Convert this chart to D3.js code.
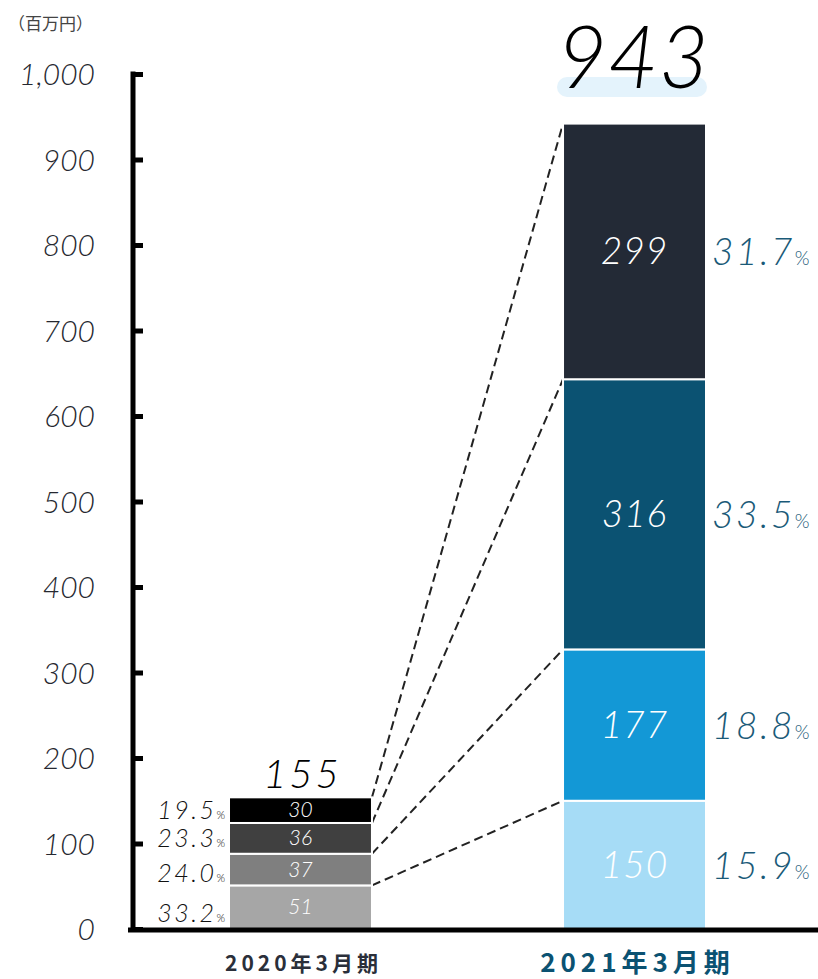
<!DOCTYPE html>
<html>
<head>
<meta charset="utf-8">
<script src="https://cdn.jsdelivr.net/npm/d3@7/dist/d3.min.js"></script>
<style>
  body { margin: 0; background: #fff; }
  svg { display: block; }
</style>
</head>
<body>
<svg id="chart" width="818" height="979"></svg>
<script>
// Sales breakdown by segment (百万円)
const periods = ["2020年3月期", "2021年3月期"];
const values2020 = [51, 37, 36, 30];
const values2021 = [150, 177, 316, 299];
const shares2020 = ["33.2", "24.0", "23.3", "19.5"];
const shares2021 = ["15.9", "18.8", "33.5", "31.7"];
const totals = [155, 943];
const colors2020 = ["#a6a6a6", "#7f7f7f", "#404040", "#000000"];
const colors2021 = ["#a6dcf6", "#1398d6", "#0b5272", "#232a36"];
const yTicks = [0, 100, 200, 300, 400, 500, 600, 700, 800, 900, 1000];

const svg = d3.select("#chart");
const numFont = "Lato, 'Open Sans', sans-serif";
const jpFont = "'Noto Sans CJK JP', 'Noto Sans', sans-serif";

const y = d3.scaleLinear().domain([0, 1000]).range([929, 74]);
const x = d3.scaleBand().domain(periods).range([128.8, 806.2]).paddingInner(0.572).paddingOuter(0.3);

// stacked segments
function stack(vals) {
  let acc = 0;
  return vals.map((v, i) => { const s = { i, v, y0: acc, y1: acc + v }; acc += v; return s; });
}
const seg2020 = stack(values2020);
const seg2021 = stack(values2021);

const x0 = x(periods[0]), x1 = x(periods[1]), bw = x.bandwidth();

// connecting dashed lines between corresponding boundaries
const links = [0, 1, 2, 3].map(i => ({ a: seg2020[i].y1, b: seg2021[i].y1 }));
svg.append("g").selectAll("line").data(links).join("line")
  .attr("x1", x0 + bw).attr("y1", d => y(d.a))
  .attr("x2", x1).attr("y2", d => y(d.b))
  .attr("stroke", "#222").attr("stroke-width", 2).attr("stroke-dasharray", "9,5");

// bars
function drawBar(segs, colors, bx) {
  svg.append("g").selectAll("rect").data(segs).join("rect")
    .attr("x", bx).attr("width", bw)
    .attr("y", d => y(d.y1))
    .attr("height", d => y(d.y0) - y(d.y1))
    .attr("fill", d => colors[d.i])
    .attr("stroke", "#fff").attr("stroke-width", 2);
}
drawBar(seg2020, colors2020, x0);
drawBar(seg2021, colors2021, x1);

// values inside segments
svg.append("g").selectAll("text").data(seg2020).join("text")
  .attr("x", x0 + bw / 2).attr("y", d => y((d.y0 + d.y1) / 2) + 7)
  .attr("text-anchor", "middle").attr("fill", "#fff")
  .attr("font-family", numFont).attr("font-style", "italic").attr("font-weight", 300)
  .attr("font-size", 21).text(d => d.v);
svg.append("g").selectAll("text").data(seg2021).join("text")
  .attr("x", x1 + bw / 2).attr("y", d => y((d.y0 + d.y1) / 2) + 13)
  .attr("text-anchor", "middle").attr("fill", "#fff")
  .attr("font-family", numFont).attr("font-style", "italic").attr("font-weight", 300)
  .attr("font-size", 37).attr("letter-spacing", 1).text(d => d.v);

// share labels, 2020 (left of bar)
const l2020 = svg.append("g").selectAll("text").data(seg2020).join("text")
  .attr("x", x0 - 4).attr("y", d => y((d.y0 + d.y1) / 2) + 9 + (d.i === 0 ? 6 : 0) + (d.i === 1 ? 3 : 0))
  .attr("text-anchor", "end").attr("fill", "#111")
  .attr("font-family", numFont).attr("font-style", "italic").attr("font-weight", 300)
  .attr("font-size", 25).attr("letter-spacing", 2.5);
l2020.append("tspan").text(d => shares2020[d.i]);
l2020.append("tspan").attr("font-size", 11).attr("font-style", "normal").attr("letter-spacing", 0).text("%");

// share labels, 2021 (right of bar)
const l2021 = svg.append("g").selectAll("text").data(seg2021).join("text")
  .attr("x", x1 + bw + 6).attr("y", d => y((d.y0 + d.y1) / 2) + 14)
  .attr("fill", "#1a5a78")
  .attr("font-family", numFont).attr("font-style", "italic").attr("font-weight", 300)
  .attr("font-size", 37).attr("letter-spacing", 2.5);
l2021.append("tspan").text(d => shares2021[d.i]);
l2021.append("tspan").attr("font-size", 19).attr("font-style", "normal").attr("letter-spacing", 0).text("%");

// totals
svg.append("rect").attr("x", x1 - 6).attr("y", 77).attr("width", bw + 7).attr("height", 20)
  .attr("rx", 10).attr("fill", "#e4f3fc");
svg.append("text").attr("x", x1 + bw / 2 - 1).attr("y", 88)
  .attr("text-anchor", "middle").attr("fill", "#000")
  .attr("font-family", numFont).attr("font-style", "italic").attr("font-weight", 300)
  .attr("font-size", 86).attr("letter-spacing", 1).text(totals[1]);
svg.append("text").attr("x", x0 + bw / 2 + 2).attr("y", y(totals[0]) - 8)
  .attr("text-anchor", "middle").attr("fill", "#000")
  .attr("font-family", numFont).attr("font-style", "italic").attr("font-weight", 300)
  .attr("font-size", 40).attr("letter-spacing", 3).text(totals[0]);

// y axis
const yAxis = d3.axisRight(y).tickValues(yTicks).tickSize(10).tickFormat("");
const gy = svg.append("g").attr("transform", "translate(133,0)").call(yAxis);
gy.select(".domain").remove();
gy.selectAll(".tick line").attr("stroke", "#000").attr("stroke-width", 5).attr("x1", -2);
svg.append("line").attr("x1", 133).attr("x2", 133).attr("y1", y(1000) - 2.5).attr("y2", 931)
  .attr("stroke", "#000").attr("stroke-width", 5);
svg.append("g").selectAll("text").data(yTicks).join("text")
  .attr("x", 95).attr("y", d => y(d) + 11)
  .attr("text-anchor", "end").attr("fill", "#262830")
  .attr("font-family", numFont).attr("font-style", "italic").attr("font-weight", 300)
  .attr("font-size", 30)
  .text(d => d3.format(",")(d));

// x axis baseline
svg.append("line").attr("x1", 128).attr("x2", 818).attr("y1", 930).attr("y2", 930)
  .attr("stroke", "#000").attr("stroke-width", 5);

// period labels
svg.append("text").attr("x", x0 + bw / 2 + 3).attr("y", 971).attr("text-anchor", "middle")
  .attr("fill", "#2a2f3a").attr("font-family", jpFont).attr("font-weight", 700)
  .attr("font-size", 21).attr("letter-spacing", 4).text(periods[0]);
svg.append("text").attr("x", x1 + bw / 2 + 3).attr("y", 972).attr("text-anchor", "middle")
  .attr("fill", "#0b5272").attr("font-family", jpFont).attr("font-weight", 700)
  .attr("font-size", 26).attr("letter-spacing", 5).text(periods[1]);

// unit label
svg.append("text").attr("x", 8).attr("y", 30).attr("fill", "#444")
  .attr("font-family", jpFont).attr("font-size", 17).text("（百万円）");
</script>
</body>
</html>
